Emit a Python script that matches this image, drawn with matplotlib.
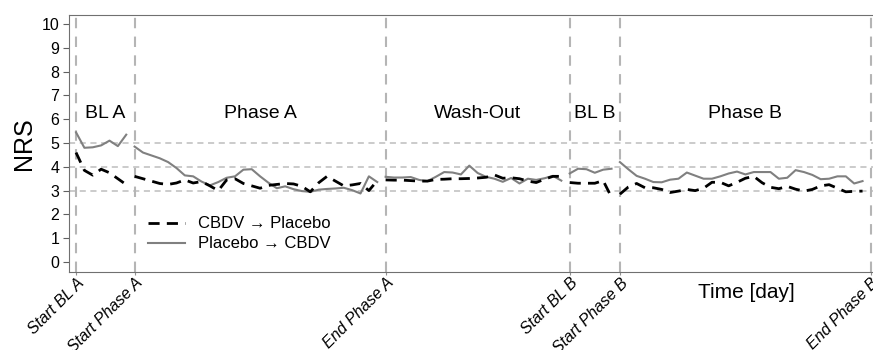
import numpy as np
import matplotlib
matplotlib.use("Agg")
import matplotlib.pyplot as plt

plt.rcParams['font.family'] = ['Liberation Sans', 'DejaVu Sans']

# Phase boundaries (day) and labels
boundaries = [0, 7, 37, 59, 65, 95]
boundary_labels = ["Start BL A", "Start Phase A", "End Phase A",
                   "Start BL B", "Start Phase B", "End Phase B"]
phase_names = ["BL A", "Phase A", "Wash-Out", "BL B", "Phase B"]

# Mean NRS per day, one list per phase
cbdv_bla = [4.6, 3.85, 3.65, 3.9, 3.75, 3.5, 3.25]
cbdv_pha = [3.6, 3.5, 3.4, 3.3, 3.26, 3.32, 3.45, 3.32, 3.38, 3.2,
            3.0, 3.45, 3.5, 3.3, 3.2, 3.1, 3.22, 3.26, 3.3, 3.28,
            3.18, 2.95, 3.33, 3.6, 3.4, 3.2, 3.24, 3.3, 3.0, 3.42]
cbdv_wash = [3.45, 3.44, 3.44, 3.42, 3.4, 3.4, 3.47, 3.48, 3.5, 3.5, 3.51,
             3.53, 3.56, 3.66, 3.52, 3.54, 3.5, 3.4, 3.34, 3.48, 3.6, 3.6]
cbdv_blb = [3.34, 3.31, 3.31, 3.31, 3.42, 2.72]
cbdv_phb = [2.85, 3.15, 3.3, 3.12, 3.12, 3.05, 2.92, 2.98, 3.05, 3.0,
            3.1, 3.35, 3.35, 3.2, 3.35, 3.52, 3.6, 3.33, 3.14, 3.08,
            3.18, 3.06, 2.98, 3.05, 3.2, 3.25, 3.1, 2.95, 2.97, 2.98]

plac_bla = [5.45, 4.8, 4.82, 4.9, 5.1, 4.87, 5.35]
plac_pha = [4.85, 4.6, 4.48, 4.36, 4.2, 3.95, 3.64, 3.6, 3.38, 3.22,
            3.36, 3.54, 3.6, 3.88, 3.9, 3.6, 3.33, 3.1, 3.18, 3.06,
            2.98, 2.95, 3.04, 3.07, 3.09, 3.12, 3.02, 2.88, 3.6, 3.36]
plac_wash = [3.58, 3.55, 3.55, 3.57, 3.45, 3.4, 3.58, 3.78, 3.76, 3.68, 4.05,
             3.74, 3.58, 3.5, 3.37, 3.53, 3.3, 3.5, 3.45, 3.52, 3.62, 3.42]
plac_blb = [3.72, 3.92, 3.9, 3.75, 3.88, 3.92]
plac_phb = [4.2, 3.9, 3.62, 3.5, 3.36, 3.35, 3.46, 3.5, 3.76, 3.63,
            3.5, 3.5, 3.6, 3.72, 3.8, 3.68, 3.78, 3.78, 3.78, 3.5,
            3.54, 3.86, 3.78, 3.66, 3.48, 3.5, 3.6, 3.6, 3.3, 3.4]

cbdv = [cbdv_bla, cbdv_pha, cbdv_wash, cbdv_blb, cbdv_phb]
plac = [plac_bla, plac_pha, plac_wash, plac_blb, plac_phb]

fig = plt.figure(figsize=(8.73, 3.5), dpi=100)
ax = fig.add_axes([69 / 873, 1 - 272 / 350, 1 - 69 / 873, 257 / 350])

# horizontal reference lines
for y in [3, 4, 5]:
    ax.axhline(y, color='#bdbdbd', lw=1.1, ls=(0, (4, 3)), zorder=1)
# phase boundaries
for b in boundaries:
    ax.axvline(b, color='#b5b5b5', lw=1.5, ls=(0, (5, 4)), zorder=1)

# lines, each phase a separate segment
for i, start in enumerate(boundaries[:-1]):
    d1 = np.arange(start, start + len(cbdv[i]))
    d2 = np.arange(start, start + len(plac[i]))
    ax.plot(d2, plac[i], color='#808080', lw=1.5, zorder=3,
            label='Placebo \u2192 CBDV' if i == 0 else None)
    ax.plot(d1, cbdv[i], color='black', lw=2.0, ls=(0, (4, 2.6)), zorder=4,
            label='CBDV \u2192 Placebo' if i == 0 else None)
    mid = (boundaries[i] + boundaries[i + 1]) / 2
    ax.text(mid, 6.22, phase_names[i], ha='center', va='center', fontsize=14)

ax.set_xlim(-0.84, 95.25)
ax.set_ylim(-0.42, 10.38)
ax.set_yticks(range(11))
ax.tick_params(axis='y', labelsize=11.5, length=4, color='#606060', pad=3)
ax.set_xticks(boundaries)
ax.set_xticklabels(boundary_labels, rotation=45, ha='right', va='top',
                   rotation_mode='anchor', fontstyle='italic', fontsize=11.5)
ax.tick_params(axis='x', length=2, color='#909090', pad=0.5)
ax.set_ylabel("NRS", fontsize=18, labelpad=4)
ax.text(698 / 873, 1 - 292 / 350, "Time [day]", transform=fig.transFigure,
        fontsize=15, ha='left', va='center')

for s in ['left', 'bottom', 'top']:
    ax.spines[s].set_color('#707070')
ax.spines['right'].set_visible(False)

h, l = ax.get_legend_handles_labels()
ax.legend([h[1], h[0]], [l[1], l[0]], loc='upper left',
          bbox_to_anchor=(145 / 873, 1 - 213 / 350), bbox_transform=fig.transFigure,
          frameon=False, fontsize=12, handlelength=2.2, handletextpad=0.8,
          labelspacing=0.3, borderaxespad=0, borderpad=0.2)

plt.savefig("out.png", dpi=100)
